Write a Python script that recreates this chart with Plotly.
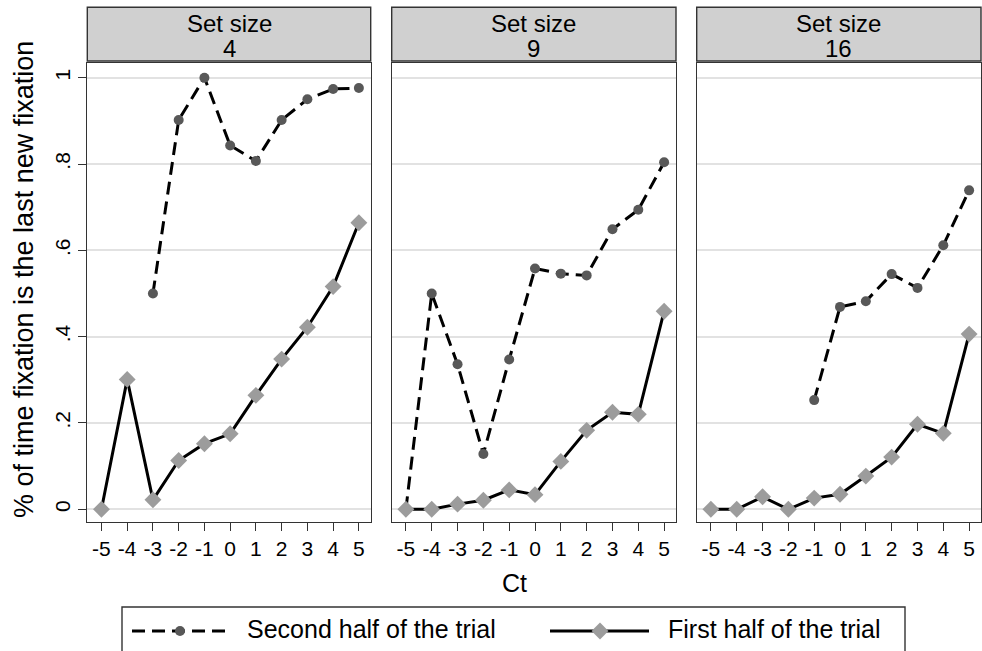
import plotly.graph_objects as go

# Ct positions shared by every panel
ct = [-5, -4, -3, -2, -1, 0, 1, 2, 3, 4, 5]

# Share of time the fixation is the last new fixation, by set size
second_half_4 = [None, None, 0.50, 0.902, 1.00, 0.843, 0.807, 0.902, 0.95, 0.974, 0.976]
first_half_4 = [0.0, 0.301, 0.022, 0.113, 0.152, 0.175, 0.264, 0.348, 0.422, 0.516, 0.664]

second_half_9 = [0.0, 0.50, 0.336, 0.128, 0.347, 0.558, 0.546, 0.542, 0.649, 0.694, 0.804]
first_half_9 = [0.0, 0.0, 0.012, 0.021, 0.045, 0.034, 0.111, 0.183, 0.225, 0.220, 0.459]

second_half_16 = [None, None, None, None, 0.253, 0.469, 0.482, 0.545, 0.513, 0.612, 0.739]
first_half_16 = [0.0, 0.0, 0.029, 0.0, 0.026, 0.035, 0.077, 0.121, 0.197, 0.176, 0.406]

set_sizes = ["4", "9", "16"]
y_tickvals = [0, 0.2, 0.4, 0.6, 0.8, 1.0]
y_ticktext = ["0", ".2", ".4", ".6", ".8", "1"]

series_names = ["Second half of the trial", "First half of the trial"]

W, H = 982, 651
FONT = "Liberation Sans, Arial, sans-serif"
DARK = "#333333"


def fx(px):
    return px / W


def fy(py):
    return 1 - py / H


panel_px = [(87.3, 370.7), (391.7, 676.0), (696.7, 981.0)]
plot_top, plot_bottom = 63.3, 521.7
strip_top, strip_bottom = 7.3, 61.0

dashed_line = dict(color="black", width=3, dash="13px,7px")
solid_line = dict(color="black", width=3)
circle_marker = dict(symbol="circle", size=10, color="#585858")
diamond_marker = dict(symbol="diamond", size=13, color="#9c9c9c")

panel_data = [
    (second_half_4, first_half_4),
    (second_half_9, first_half_9),
    (second_half_16, first_half_16),
]

fig = go.Figure()

for i, (sec, fst) in enumerate(panel_data):
    xa = "x" if i == 0 else f"x{i + 1}"
    ya = "y" if i == 0 else f"y{i + 1}"
    fig.add_trace(go.Scatter(
        x=ct, y=sec, mode="lines+markers", name=series_names[0],
        line=dashed_line, marker=circle_marker, connectgaps=False,
        xaxis=xa, yaxis=ya, showlegend=False))
    fig.add_trace(go.Scatter(
        x=ct, y=fst, mode="lines+markers", name=series_names[1],
        line=solid_line, marker=diamond_marker,
        xaxis=xa, yaxis=ya, showlegend=False))

layout = dict(
    width=W, height=H,
    margin=dict(l=0, r=0, t=0, b=0),
    paper_bgcolor="white", plot_bgcolor="rgba(0,0,0,0)",
    font=dict(family=FONT, color="black"),
    showlegend=False,
)

for i, (x0, x1) in enumerate(panel_px):
    sfx = "" if i == 0 else str(i + 1)
    layout["xaxis" + sfx] = dict(
        domain=[fx(x0), fx(x1)], range=[-5.55, 5.46],
        anchor="y" + sfx,
        tickvals=ct, ticktext=[str(v) for v in ct],
        ticks="outside", ticklen=8, tickwidth=1.3, tickcolor=DARK,
        tickfont=dict(size=21, family=FONT, color="black"),
        showline=True, mirror=True, linecolor=DARK, linewidth=1.4,
        showgrid=False, zeroline=False, fixedrange=True,
    )
    layout["yaxis" + sfx] = dict(
        domain=[fy(plot_bottom), fy(plot_top)], range=[-0.0287, 1.0334],
        anchor="x" + sfx,
        tickvals=y_tickvals, ticktext=y_ticktext,
        ticks="outside" if i == 0 else "", ticklen=8, tickwidth=1.3,
        tickcolor=DARK, tickangle=-90,
        showticklabels=(i == 0),
        tickfont=dict(size=21, family=FONT, color="black"),
        showline=True, mirror=True, linecolor=DARK, linewidth=1.4,
        showgrid=True, gridcolor="#e2e2e2", gridwidth=1.6,
        zeroline=False, fixedrange=True,
    )

# Pixel-space overlay used for the legend keys
layout["xaxis4"] = dict(domain=[0, 1], range=[0, W], visible=False,
                        anchor="y4", fixedrange=True)
layout["yaxis4"] = dict(domain=[0, 1], range=[H, 0], visible=False,
                        anchor="x4", fixedrange=True)

fig.update_layout(**layout)

shapes = []
annotations = []

# Panel headers
for (x0, x1), size in zip(panel_px, set_sizes):
    shapes.append(dict(
        type="rect", xref="paper", yref="paper",
        x0=fx(x0), x1=fx(x1), y0=fy(strip_bottom), y1=fy(strip_top),
        fillcolor="#d0d0d0", line=dict(color=DARK, width=1.4), layer="above"))
    cx = fx((x0 + x1) / 2)
    annotations.append(dict(
        text="Set size", x=cx, y=fy(24), xref="paper", yref="paper",
        showarrow=False, xanchor="center", yanchor="middle",
        font=dict(size=24, family=FONT, color="black")))
    annotations.append(dict(
        text=size, x=cx, y=fy(48.5), xref="paper", yref="paper",
        showarrow=False, xanchor="center", yanchor="middle",
        font=dict(size=24, family=FONT, color="black")))

# Axis titles
annotations.append(dict(
    text="% of time fixation is the last new fixation",
    x=fx(24), y=fy(280), xref="paper", yref="paper", textangle=-90,
    showarrow=False, xanchor="center", yanchor="middle",
    font=dict(size=27, family=FONT, color="black")))
annotations.append(dict(
    text="Ct", x=fx(514), y=fy(583), xref="paper", yref="paper",
    showarrow=False, xanchor="center", yanchor="middle",
    font=dict(size=25, family=FONT, color="black")))

# Legend box and labels
shapes.append(dict(
    type="rect", xref="paper", yref="paper",
    x0=fx(122), x1=fx(905), y0=-0.02, y1=fy(607),
    line=dict(color=DARK, width=1.4), fillcolor="rgba(0,0,0,0)"))
legend_rows = [
    (series_names[0], 132, 228, 180, 245, dashed_line, circle_marker),
    (series_names[1], 550, 649, 600, 666, solid_line, diamond_marker),
]
key_y = 631
for name, lx0, lx1, mx, tx, line, marker in legend_rows:
    fig.add_trace(go.Scatter(
        x=[lx0, lx1], y=[key_y, key_y], mode="lines", line=line,
        xaxis="x4", yaxis="y4", showlegend=False, hoverinfo="skip"))
    fig.add_trace(go.Scatter(
        x=[mx], y=[key_y], mode="markers", marker=marker,
        xaxis="x4", yaxis="y4", showlegend=False, hoverinfo="skip"))
    annotations.append(dict(
        text=name, x=fx(tx), y=fy(629), xref="paper", yref="paper",
        showarrow=False, xanchor="left", yanchor="middle",
        font=dict(size=25, family=FONT, color="black")))

fig.update_layout(shapes=shapes, annotations=annotations)

fig.write_html("out.html")
